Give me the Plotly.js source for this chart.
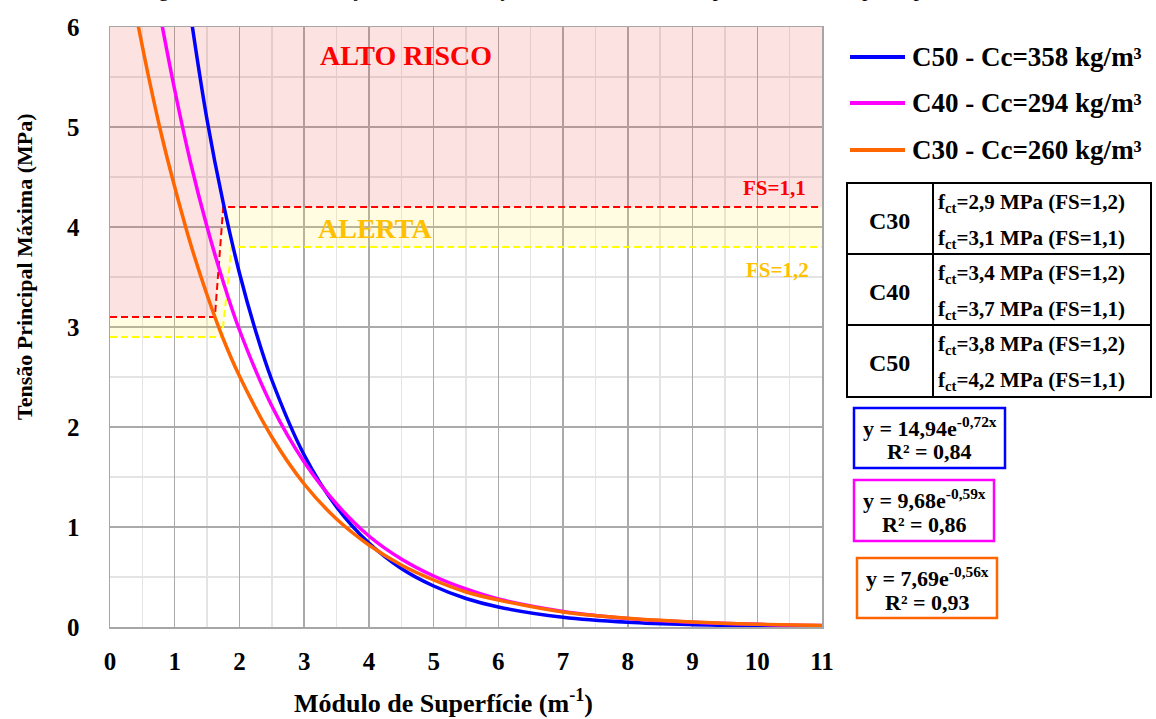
<!DOCTYPE html>
<html>
<head>
<meta charset="utf-8">
<script src="https://cdn.plot.ly/plotly-3.0.1.min.js"></script>
<style>html,body{margin:0;padding:0;background:#fff;}#chart{width:1156px;height:719px;}</style>
</head>
<body>
<div id="chart"></div>
<script>
// ---- data ----
const xC50 = [1.25, 1.5, 1.75, 2, 2.25, 2.5, 3, 3.5, 4, 4.5, 5, 5.5, 6, 7, 8, 9, 10, 11];
const yC50 = [6.1, 5.07, 4.24, 3.54, 2.96, 2.47, 1.72, 1.20, 0.84, 0.585, 0.41, 0.285, 0.20, 0.097, 0.047, 0.023, 0.011, 0.005];
const xC40 = [0.78, 1, 1.25, 1.5, 1.75, 2, 2.5, 3, 3.5, 4, 4.5, 5, 5.5, 6, 7, 8, 9, 10, 11];
const yC40 = [6.1, 5.37, 4.63, 4.0, 3.45, 2.97, 2.21, 1.65, 1.23, 0.91, 0.68, 0.51, 0.38, 0.28, 0.156, 0.086, 0.048, 0.027, 0.015];
const xC30 = [0.41, 0.6, 0.8, 1, 1.25, 1.5, 1.75, 2, 2.5, 3, 3.5, 4, 4.5, 5, 5.5, 6, 7, 8, 9, 10, 11];
const yC30 = [6.1, 5.49, 4.91, 4.4, 3.82, 3.32, 2.88, 2.51, 1.90, 1.43, 1.08, 0.82, 0.62, 0.47, 0.35, 0.27, 0.15, 0.087, 0.05, 0.028, 0.016];

const seriesNames = ["C50 - Cc=358 kg/m³", "C40 - Cc=294 kg/m³", "C30 - Cc=260 kg/m³"];
const seriesColors = ["#0000ff", "#ff00ff", "#ff6600"];

// safety-factor limit lines (FS = 1,1 and FS = 1,2)
const fs11X = [0, 1.62, 1.75, 11];
const fs11Y = [3.1, 3.1, 4.2, 4.2];
const fs12X = [0, 1.73, 1.88, 11];
const fs12Y = [2.9, 2.9, 3.8, 3.8];
const topX = [0, 11];
const topY = [6, 6];

const xTicks = [0, 1, 2, 3, 4, 5, 6, 7, 8, 9, 10, 11];
const yTicks = [0, 1, 2, 3, 4, 5, 6];

const tableClasses = ["C30", "C40", "C50"];
const tableFctFS12 = ["2,9", "3,4", "3,8"];
const tableFctFS11 = ["3,1", "3,7", "4,2"];

const eqText = ["y = 14,94e<sup>-0,72x</sup>", "y = 9,68e<sup>-0,59x</sup>", "y = 7,69e<sup>-0,56x</sup>"];
const r2Text = ["R² = 0,84", "R² = 0,86", "R² = 0,93"];

// ---- layout helpers (pixel -> paper) ----
const L = 110, R = 822, T = 27, B = 627;
const px = v => (v - L) / (R - L);
const py = v => (B - v) / (B - T);
const FONT = "Liberation Serif";
const b = s => "<b>" + s + "</b>";

const traces = [
  {x: fs12X, y: fs12Y, mode: "lines", line: {width: 0}, hoverinfo: "skip", showlegend: false},
  {x: fs11X, y: fs11Y, mode: "lines", line: {width: 0}, fill: "tonexty", fillcolor: "rgba(255,240,80,0.17)", hoverinfo: "skip", showlegend: false},
  {x: topX, y: topY, mode: "lines", line: {width: 0}, fill: "tonexty", fillcolor: "rgba(245,80,80,0.166)", hoverinfo: "skip", showlegend: false},
  {x: fs11X, y: fs11Y, mode: "lines", line: {color: "#ff0000", width: 2, dash: "7px,4px"}, showlegend: false},
  {x: fs12X, y: fs12Y, mode: "lines", line: {color: "#ffff00", width: 2, dash: "7px,4px"}, showlegend: false},
  {x: xC50, y: yC50, name: seriesNames[0], mode: "lines", line: {color: seriesColors[0], width: 3.5, shape: "spline"}, showlegend: false},
  {x: xC40, y: yC40, name: seriesNames[1], mode: "lines", line: {color: seriesColors[1], width: 3.5, shape: "spline"}, showlegend: false},
  {x: xC30, y: yC30, name: seriesNames[2], mode: "lines", line: {color: seriesColors[2], width: 3.5, shape: "spline"}, showlegend: false}
];

const shapes = [];
const annotations = [];
const ann = o => annotations.push(Object.assign({xref: "paper", yref: "paper", xanchor: "center", yanchor: "middle", showarrow: false}, o));

// partially visible caption at the top edge
ann({x: px(578), y: py(3), yanchor: "bottom",
  text: "Figura C1 – Curvas de ajuste das correlações entre Módulo de superfície e tensão principal máxima",
  font: {family: FONT, size: 22, color: "#000"}});

// zone labels
annotations.push({x: 4.58, y: 5.72, xanchor: "center", yanchor: "middle", text: b("ALTO RISCO"), showarrow: false, font: {family: FONT, size: 28, color: "#ff0000"}});
annotations.push({x: 4.1, y: 3.99, xanchor: "center", yanchor: "middle", text: b("ALERTA"), showarrow: false, font: {family: FONT, size: 28, color: "#ffc000"}});
annotations.push({x: 10.27, y: 4.39, xanchor: "center", yanchor: "middle", text: b("FS=1,1"), showarrow: false, font: {family: FONT, size: 21, color: "#ff0000"}});
annotations.push({x: 10.32, y: 3.57, xanchor: "center", yanchor: "middle", text: b("FS=1,2"), showarrow: false, font: {family: FONT, size: 21, color: "#ffc000"}});

// manual legend
const legY = [57, 103, 150];
for (let i = 0; i < 3; i++) {
  shapes.push({type: "line", xref: "paper", yref: "paper", x0: px(850), x1: px(905), y0: py(legY[i]), y1: py(legY[i]),
    line: {color: seriesColors[i], width: 4}});
  ann({x: px(910), y: py(legY[i]), xanchor: "left", text: b(seriesNames[i]), font: {family: FONT, size: 27, color: "#000"}});
}

// table
const tL = 847, tR = 1151, tM = 933, tT = 183, tB = 397;
const rowEdges = [183, 254, 325, 397];
shapes.push({type: "rect", xref: "paper", yref: "paper", x0: px(tL), x1: px(tR), y0: py(tT), y1: py(tB), line: {color: "#000", width: 2}});
shapes.push({type: "line", xref: "paper", yref: "paper", x0: px(tM), x1: px(tM), y0: py(tT), y1: py(tB), line: {color: "#000", width: 2}});
for (let i = 1; i < 3; i++) {
  shapes.push({type: "line", xref: "paper", yref: "paper", x0: px(tL), x1: px(tR), y0: py(rowEdges[i]), y1: py(rowEdges[i]), line: {color: "#000", width: 2}});
}
for (let i = 0; i < 3; i++) {
  const top = rowEdges[i];
  ann({x: px(889), y: py(top + 38), text: b(tableClasses[i]), font: {family: FONT, size: 24, color: "#000"}});
  ann({x: px(936), y: py(top + 20), xanchor: "left",
    text: b("f<sub>ct</sub>=" + tableFctFS12[i] + " MPa (FS=1,2)"), font: {family: FONT, size: 21, color: "#000"}});
  ann({x: px(936), y: py(top + 56), xanchor: "left",
    text: b("f<sub>ct</sub>=" + tableFctFS11[i] + " MPa (FS=1,1)"), font: {family: FONT, size: 21, color: "#000"}});
}

// equation boxes
const eqBox = [[854, 1005, 408, 468], [854, 994, 480, 541], [857, 997, 558, 618]];
for (let i = 0; i < 3; i++) {
  const bx = eqBox[i];
  const cx = px((bx[0] + bx[1]) / 2);
  shapes.push({type: "rect", xref: "paper", yref: "paper", x0: px(bx[0]), x1: px(bx[1]), y0: py(bx[2]), y1: py(bx[3]),
    line: {color: seriesColors[i], width: 2.5}, fillcolor: "#fff"});
  ann({x: cx, y: py(bx[2] + 19), text: b(eqText[i]), font: {family: FONT, size: 22, color: "#000"}});
  ann({x: cx, y: py(bx[2] + 44), text: b(r2Text[i]), font: {family: FONT, size: 22, color: "#000"}});
}

// axis titles
ann({x: px(443), y: py(701), text: b("Módulo de Superfície (m<sup>-1</sup>)"), font: {family: FONT, size: 26, color: "#000"}});
ann({x: px(24), y: py(267), text: b("Tensão Principal Máxima (MPa)"), textangle: -90, font: {family: FONT, size: 22, color: "#000"}});

const layout = {
  width: 1156, height: 719,
  margin: {l: L, r: 1156 - R, t: T, b: 719 - B},
  paper_bgcolor: "#fff", plot_bgcolor: "#fff",
  showlegend: false,
  xaxis: {range: [0, 11], tickmode: "array", tickvals: xTicks, ticktext: xTicks.map(v => b(String(v))),
    showgrid: true, gridcolor: "#aaaaaa", gridwidth: 1.5,
    minor: {dtick: 0.5, tick0: 0, showgrid: true, gridcolor: "#e4e4e4", gridwidth: 1.5},
    showline: true, mirror: true, linecolor: "#a6a6a6", linewidth: 1.5, zeroline: false,
    ticks: "", ticklabelstandoff: 11, tickfont: {family: FONT, size: 25, color: "#000"}, fixedrange: true},
  yaxis: {range: [0, 6], tickmode: "array", tickvals: yTicks, ticktext: yTicks.map(v => b(String(v))),
    showgrid: true, gridcolor: "#aaaaaa", gridwidth: 1.5,
    minor: {dtick: 0.5, tick0: 0, showgrid: true, gridcolor: "#e4e4e4", gridwidth: 1.5},
    showline: true, mirror: true, linecolor: "#a6a6a6", linewidth: 1.5, zeroline: false,
    ticks: "", ticklabelstandoff: 24, tickfont: {family: FONT, size: 25, color: "#000"}, fixedrange: true},
  shapes: shapes,
  annotations: annotations
};

Plotly.newPlot("chart", traces, layout, {displayModeBar: false, staticPlot: true});
</script>
</body>
</html>
